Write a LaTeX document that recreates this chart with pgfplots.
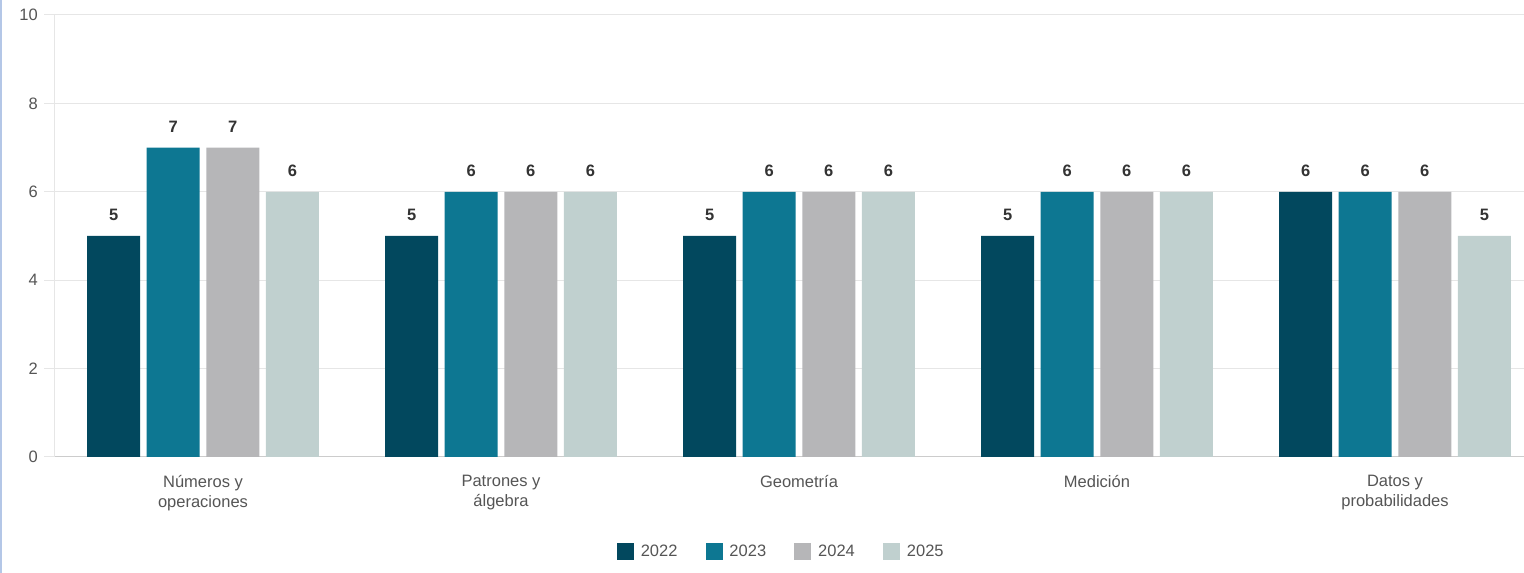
\documentclass[border=0pt]{standalone}
\usepackage{fontspec}
\setmainfont{Liberation Sans}
\usepackage{pgfplots}
\pgfplotsset{compat=1.18}

\definecolor{c22}{HTML}{02485E}
\definecolor{c23}{HTML}{0D7792}
\definecolor{c24}{HTML}{B6B6B8}
\definecolor{c25}{HTML}{C0D0CF}
\definecolor{gridc}{HTML}{E6E6E6}
\definecolor{basec}{HTML}{CCCCCC}
\definecolor{txt}{HTML}{555555}
\definecolor{lbl}{HTML}{333333}
\definecolor{edge}{HTML}{B4C7E7}

\begin{document}
\begin{tikzpicture}
\useasboundingbox (0,0) rectangle (1524pt,573pt);
\fill[edge] (0,0) rectangle (2pt,573pt);

\begin{axis}[
    at={(54pt,116pt)}, anchor=south west,
    x=298pt, y=44.2pt,
    xmin=-0.5, xmax=4.433,
    ymin=0, ymax=10,
    ybar, bar width=0.178,
    axis x line=bottom, axis y line=left,
    x axis line style={-, draw=basec, line width=1pt},
    y axis line style={-, draw=gridc, line width=1pt},
    xtick={0,1,2,3,4},
    xticklabels={{Números y\\operaciones},{Patrones y\\álgebra},Geometría,Medición,{Datos y\\probabilidades}},
    x tick style={draw=none},
    xticklabel style={align=center, anchor=north, inner sep=0pt, yshift=-8pt, text=txt,
        font=\fontsize{16.5}{20}\selectfont},
    ytick={0,2,4,6,8,10},
    y tick style={draw=gridc, line width=1pt},
    tick align=outside, major tick length=10pt,
    yticklabel style={anchor=east, inner sep=0pt, xshift=-6pt, text=txt, font=\fontsize{16.5}{20}\selectfont},
    /pgf/number format/assume math mode=true,
    ymajorgrids=true,
    grid style={draw=gridc, line width=1pt},
    nodes near coords,
    every node near coord/.append style={anchor=base, inner sep=0pt, yshift=15pt,
        text=lbl, font=\fontsize{16.5}{20}\selectfont\bfseries},
    legend columns=4,
    legend style={at={(0.494,-0.2127)}, anchor=center, draw=none, fill=none,
        font=\fontsize{16.5}{20}\selectfont, text=txt,
        nodes={inner sep=0pt},
        /tikz/every odd column/.append style={column sep=7pt},
        /tikz/every even column/.append style={column sep=28pt}},
    legend image code/.code={\fill[#1] (0pt,-8.5pt) rectangle (17pt,8.5pt);},
]
\addplot[fill=c22, draw=none, bar shift=-0.3] coordinates {(0,5) (1,5) (2,5) (3,5) (4,6)};
\addplot[fill=c23, draw=none, bar shift=-0.1] coordinates {(0,7) (1,6) (2,6) (3,6) (4,6)};
\addplot[fill=c24, draw=none, bar shift=0.1] coordinates {(0,7) (1,6) (2,6) (3,6) (4,6)};
\addplot[fill=c25, draw=none, bar shift=0.3] coordinates {(0,6) (1,6) (2,6) (3,6) (4,5)};
\legend{2022,2023,2024,2025}
\end{axis}
\end{tikzpicture}
\end{document}
